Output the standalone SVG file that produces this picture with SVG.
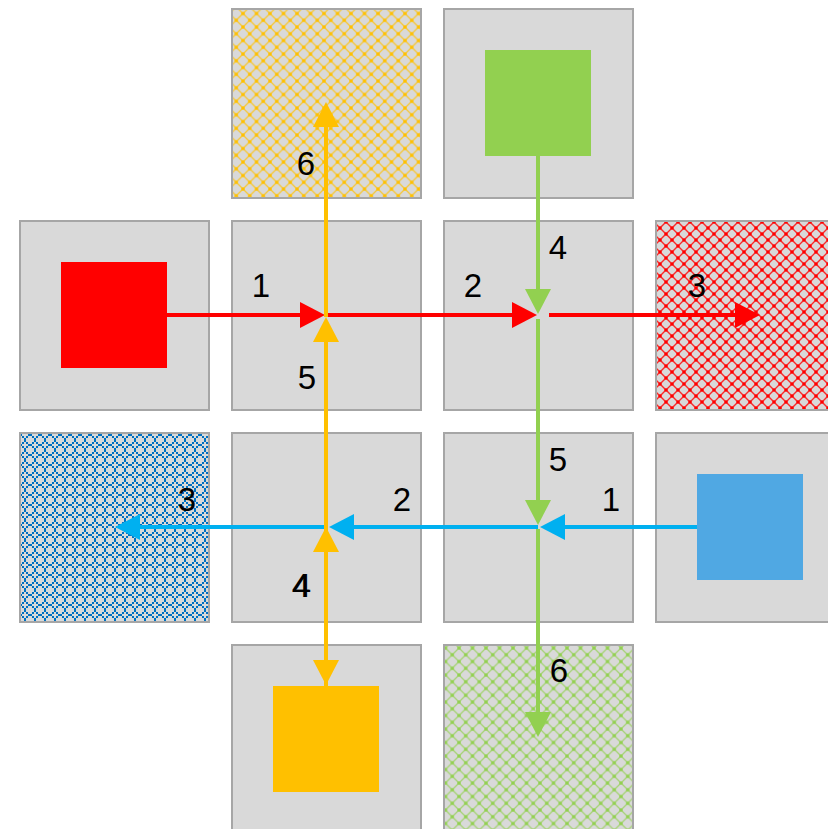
<svg xmlns="http://www.w3.org/2000/svg" width="828" height="829" viewBox="0 0 828 829">
<style>
.tile{fill:#d9d9d9;stroke:#a6a6a6;stroke-width:2}
.lbl{font-family:"Liberation Sans",Arial,sans-serif;font-size:33px;fill:#000;text-anchor:middle}
.c{fill:none;stroke-width:4}
</style>
<defs>
<pattern id="pY" width="13.5" height="13.5" patternUnits="userSpaceOnUse">
<path d="M0,0L13.5,13.5M13.5,0L0,13.5" stroke="#ffc000" stroke-width="1.3" stroke-opacity="0.75"/>
<circle cx="6.75" cy="6.75" r="1.8" fill="#ffc000"/>
<circle cx="0" cy="0" r="1.8" fill="#ffc000"/><circle cx="13.5" cy="0" r="1.8" fill="#ffc000"/>
<circle cx="0" cy="13.5" r="1.8" fill="#ffc000"/><circle cx="13.5" cy="13.5" r="1.8" fill="#ffc000"/>
</pattern>
<pattern id="pG" width="13.5" height="13.5" patternUnits="userSpaceOnUse">
<path d="M0,0L13.5,13.5M13.5,0L0,13.5" stroke="#92d050" stroke-width="1.3" stroke-opacity="0.75"/>
<circle cx="6.75" cy="6.75" r="1.8" fill="#92d050"/>
<circle cx="0" cy="0" r="1.8" fill="#92d050"/><circle cx="13.5" cy="0" r="1.8" fill="#92d050"/>
<circle cx="0" cy="13.5" r="1.8" fill="#92d050"/><circle cx="13.5" cy="13.5" r="1.8" fill="#92d050"/>
</pattern>
<pattern id="pR" width="12" height="12" patternUnits="userSpaceOnUse">
<path d="M0,0L12,12M12,0L0,12" stroke="#ff0000" stroke-width="1.4" stroke-opacity="0.8"/>
<circle cx="6" cy="6" r="1.8" fill="#ff0000"/>
<circle cx="0" cy="0" r="1.8" fill="#ff0000"/><circle cx="12" cy="0" r="1.8" fill="#ff0000"/>
<circle cx="0" cy="12" r="1.8" fill="#ff0000"/><circle cx="12" cy="12" r="1.8" fill="#ff0000"/>
</pattern>
<pattern id="pB" width="10" height="10" patternUnits="userSpaceOnUse">
<rect x="4" y="0" width="2" height="2" fill="#0070c0"/>
<rect x="4" y="8" width="2" height="2" fill="#0070c0"/>
<rect x="0" y="4" width="2" height="2" fill="#0070c0"/>
<rect x="8" y="4" width="2" height="2" fill="#0070c0"/>
<rect x="2" y="2" width="2" height="2" fill="#0070c0"/>
<rect x="6" y="2" width="2" height="2" fill="#0070c0"/>
<rect x="2" y="6" width="2" height="2" fill="#0070c0"/>
<rect x="6" y="6" width="2" height="2" fill="#0070c0"/>
</pattern>
<marker id="aR" markerUnits="userSpaceOnUse" markerWidth="26" markerHeight="26" refX="15" refY="13" orient="auto"><path d="M0,0L25,13L0,26z" fill="#ff0000"/></marker>
<marker id="aG" markerUnits="userSpaceOnUse" markerWidth="26" markerHeight="26" refX="15" refY="13" orient="auto"><path d="M0,0L25,13L0,26z" fill="#92d050"/></marker>
<marker id="aB" markerUnits="userSpaceOnUse" markerWidth="26" markerHeight="26" refX="15" refY="13" orient="auto"><path d="M0,0L25,13L0,26z" fill="#00b0f0"/></marker>
<marker id="aO" markerUnits="userSpaceOnUse" markerWidth="26" markerHeight="26" refX="15" refY="13" orient="auto"><path d="M0,0L25,13L0,26z" fill="#ffc000"/></marker>
</defs>
<rect width="828" height="829" fill="#fff"/>

<g id="tile-yellow-target"><rect class="tile" x="232" y="9" width="189" height="189"/><rect x="233" y="10" width="187" height="187" fill="url(#pY)"/></g>
<g id="tile-green-source"><rect class="tile" x="444" y="9" width="189" height="189"/><rect x="485" y="50" width="106" height="106" fill="#92d050"/></g>
<g id="tile-red-source"><rect class="tile" x="20" y="221" width="189" height="189"/><rect x="61" y="262" width="106" height="106" fill="#ff0000"/></g>
<g id="tile-c1r1"><rect class="tile" x="232" y="221" width="189" height="189"/></g>
<g id="tile-c2r1"><rect class="tile" x="444" y="221" width="189" height="189"/></g>
<g id="tile-red-target"><rect class="tile" x="656" y="221" width="189" height="189"/><rect x="657" y="222" width="187" height="187" fill="url(#pR)"/></g>
<g id="tile-blue-target"><rect class="tile" x="20" y="433" width="189" height="189"/><rect x="21" y="434" width="187" height="187" fill="url(#pB)"/></g>
<g id="tile-c1r2"><rect class="tile" x="232" y="433" width="189" height="189"/></g>
<g id="tile-c2r2"><rect class="tile" x="444" y="433" width="189" height="189"/></g>
<g id="tile-blue-source"><rect class="tile" x="656" y="433" width="189" height="189"/><rect x="697" y="474" width="106" height="106" fill="#50a8e3"/></g>
<g id="tile-orange-source"><rect class="tile" x="232" y="645" width="189" height="189"/><rect x="273" y="686" width="106" height="106" fill="#ffc000"/></g>
<g id="tile-green-target"><rect class="tile" x="444" y="645" width="189" height="189"/><rect x="445" y="646" width="187" height="187" fill="url(#pG)"/></g>

<g id="connectors">
<path class="c" stroke="#ff0000" marker-end="url(#aR)" d="M167,315H315"/>
<path class="c" stroke="#ff0000" marker-end="url(#aR)" d="M325,315H527"/>
<path class="c" stroke="#ff0000" marker-end="url(#aR)" d="M549,315H750"/>
<path class="c" stroke="#92d050" marker-end="url(#aG)" d="M538,156V304"/>
<path class="c" stroke="#92d050" marker-end="url(#aG)" d="M538,319V515"/>
<path class="c" stroke="#92d050" marker-end="url(#aG)" d="M538,529V727"/>
<path class="c" stroke="#00b0f0" marker-end="url(#aB)" d="M697,527H550"/>
<path class="c" stroke="#00b0f0" marker-end="url(#aB)" d="M538,527H339"/>
<path class="c" stroke="#00b0f0" marker-end="url(#aB)" d="M326,527H125"/>
<path class="c" stroke="#ffc000" marker-end="url(#aO)" d="M326,686V537"/>
<path class="c" stroke="#ffc000" marker-end="url(#aO)" d="M326,527V675"/>
<path class="c" stroke="#ffc000" marker-end="url(#aO)" d="M326,527V327"/>
<path class="c" stroke="#ffc000" marker-end="url(#aO)" d="M326,317V112"/>
</g>

<g id="labels">
<text class="lbl" x="261" y="297">1</text>
<text class="lbl" x="473" y="297">2</text>
<text class="lbl" x="697" y="297">3</text>
<text class="lbl" x="558" y="259">4</text>
<text class="lbl" x="558" y="471">5</text>
<text class="lbl" x="559" y="682">6</text>
<text class="lbl" x="611" y="511">1</text>
<text class="lbl" x="402" y="511">2</text>
<text class="lbl" x="187" y="511">3</text>
<text class="lbl" x="302" y="597">4</text>
<text class="lbl" x="301" y="597">4</text>
<text class="lbl" x="307" y="389">5</text>
<text class="lbl" x="306" y="175">6</text>
</g>
</svg>
